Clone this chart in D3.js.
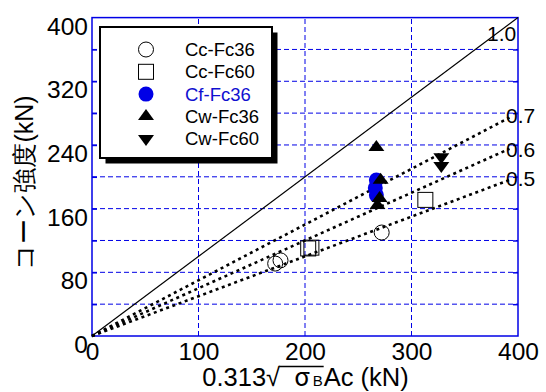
<!DOCTYPE html>
<html><head><meta charset="utf-8">
<script src="https://cdn.jsdelivr.net/npm/d3@7"></script>
<style>body{margin:0;background:#fff}svg{display:block}text{font-family:"Liberation Sans",Arial,sans-serif}</style>
</head><body>
<script>
// ---- data ----
const xTicks = [0, 100, 200, 300, 400];
const yTicks = [0, 80, 160, 240, 320, 400];
const yMinor = [40, 80, 120, 160, 200, 240, 280, 320, 360];
const xGrid = [100, 200, 300];
const ratioLines = [1.0, 0.7, 0.6, 0.5];
const ratioLabels = ["1.0", "0.7", "0.6", "0.5"];
const seriesNames = ["Cc-Fc36", "Cc-Fc60", "Cf-Fc36", "Cw-Fc36", "Cw-Fc60"];
const ccFc36X = [172, 177, 272];
const ccFc36Y = [91, 95, 130];
const ccFc60X = [203, 206, 313];
const ccFc60Y = [110, 111, 171];
const cfFc36X = [267, 266, 267];
const cfFc36Y = [196, 186, 177];
const cwFc36X = [267, 271, 270, 268];
const cwFc36Y = [237, 196, 173, 164];
const cwFc60X = [328, 328];
const cwFc60Y = [225, 214];

const W = 546, H = 392;
const L = 92, R = 518, T = 17.6, B = 336;
const blue = "#0000e6";
const svg = d3.select("body").append("svg").attr("width", W).attr("height", H);
const x = d3.scaleLinear().domain([0, 400]).range([L, R]);
const y = d3.scaleLinear().domain([0, 400]).range([B, T]);

// grid
svg.append("g").selectAll("line").data(yMinor).join("line")
  .attr("x1", L).attr("x2", R).attr("y1", d => y(d)).attr("y2", d => y(d))
  .attr("stroke", blue).attr("stroke-width", 1).attr("stroke-dasharray", "5,3");
svg.append("g").selectAll("line").data(xGrid).join("line")
  .attr("y1", B).attr("y2", T).attr("x1", d => x(d)).attr("x2", d => x(d))
  .attr("stroke", blue).attr("stroke-width", 1).attr("stroke-dasharray", "5,3");

// inward ticks (left & right)
const tickAxL = svg.append("g").attr("transform", `translate(${L},0)`)
  .call(d3.axisLeft(y).tickValues(yMinor).tickSize(-5).tickFormat(""));
tickAxL.select(".domain").remove();
tickAxL.selectAll("line").attr("stroke", blue).attr("stroke-width", 1.5);
const tickAxR = svg.append("g").attr("transform", `translate(${R},0)`)
  .call(d3.axisRight(y).tickValues(yMinor).tickSize(-5).tickFormat(""));
tickAxR.select(".domain").remove();
tickAxR.selectAll("line").attr("stroke", blue).attr("stroke-width", 1.5);

// border
svg.append("rect").attr("x", L).attr("y", T).attr("width", R - L).attr("height", B - T)
  .attr("fill", "none").attr("stroke", blue).attr("stroke-width", 1.5);

// tick labels
const yAx = svg.append("g").attr("transform", `translate(${L - 4},0)`)
  .call(d3.axisLeft(y).tickValues(yTicks).tickSize(0).tickPadding(0).tickFormat(d3.format("d")));
yAx.select(".domain").remove();
yAx.selectAll("text").attr("font-size", 24.5).attr("fill", "#000").attr("dy", "0.68em")
  .attr("font-family", "Liberation Sans, Arial, sans-serif");
const xAx = svg.append("g").attr("transform", `translate(0,${B})`)
  .call(d3.axisBottom(x).tickValues(xTicks).tickSize(0).tickPadding(0).tickFormat(d3.format("d")));
xAx.select(".domain").remove();
xAx.selectAll("text").attr("font-size", 24.5).attr("fill", "#000").attr("dy", "0.98em")
  .attr("font-family", "Liberation Sans, Arial, sans-serif");

// ratio lines
ratioLines.forEach((k, i) => {
  const xe = k === 1 ? 400 : 392;
  svg.append("line").attr("x1", x(0)).attr("y1", y(0)).attr("x2", x(xe)).attr("y2", y(xe * k))
    .attr("stroke", "#000")
    .attr("stroke-width", k === 1 ? 1.2 : 2.6)
    .attr("stroke-dasharray", k === 1 ? null : "3,3.6");
});
const lblPos = [[487, 41], [506, 123], [506, 157], [506, 186]];
ratioLabels.forEach((t, i) => {
  svg.append("text").attr("x", lblPos[i][0]).attr("y", lblPos[i][1]).attr("font-size", 21)
    .text(t);
});

// markers
function triPath(up) {
  const w = 8, h = 11;
  return up ? `M${-w},${h / 3}L${w},${h / 3}L0,${-2 * h / 3}Z` : `M${-w},${-h / 3}L${w},${-h / 3}L0,${2 * h / 3}Z`;
}
function drawMarker(g, type, cx, cy) {
  if (type === 0) g.append("circle").attr("cx", cx).attr("cy", cy).attr("r", 7.5).attr("fill", "none").attr("stroke", "#000").attr("stroke-width", 1);
  if (type === 1) g.append("rect").attr("x", cx - 7.5).attr("y", cy - 7.5).attr("width", 15).attr("height", 15).attr("fill", "none").attr("stroke", "#000").attr("stroke-width", 1);
  if (type === 2) g.append("circle").attr("cx", cx).attr("cy", cy).attr("r", 7.5).attr("fill", blue).attr("stroke", "none");
  if (type === 3) g.append("path").attr("d", triPath(true)).attr("transform", `translate(${cx},${cy})`).attr("fill", "#000");
  if (type === 4) g.append("path").attr("d", triPath(false)).attr("transform", `translate(${cx},${cy})`).attr("fill", "#000");
}
const seriesX = [ccFc36X, ccFc60X, cfFc36X, cwFc36X, cwFc60X];
const seriesY = [ccFc36Y, ccFc60Y, cfFc36Y, cwFc36Y, cwFc60Y];
const gm = svg.append("g");
seriesX.forEach((xs, s) => xs.forEach((v, i) => drawMarker(gm, s, x(v), y(seriesY[s][i]))));

// legend
const lg = svg.append("g");
lg.append("rect").attr("x", 105.5).attr("y", 32.5).attr("width", 172).attr("height", 131).attr("fill", "#000");
lg.append("rect").attr("x", 100).attr("y", 27).attr("width", 172).attr("height", 131).attr("fill", "#fff").attr("stroke", "#000").attr("stroke-width", 2);
seriesNames.forEach((n, i) => {
  const cy = 49.5 + i * 22.3;
  drawMarker(lg, i, 146, cy);
  lg.append("text").attr("x", 185).attr("y", cy + 6.5).attr("font-size", 18.5)
    .attr("fill", i === 2 ? "#1010d0" : "#000").text(n);
});

// y title
svg.append("text").attr("transform", "translate(33,182.5) rotate(-90)").attr("text-anchor", "middle")
  .attr("font-size", 25).attr("font-family", "Liberation Sans, 'Noto Sans CJK JP', sans-serif")
  .text("コーン強度(kN)");

// x title
const xt = svg.append("text").attr("x", 305.5).attr("y", 386).attr("text-anchor", "middle").attr("font-size", 25.5);
xt.append("tspan").text("0.313√");
xt.append("tspan").attr("dx", 14).attr("font-family", "'Noto Sans CJK JP', sans-serif").text("σ");
xt.append("tspan").attr("dx", 3).attr("font-size", 15).text("B");
xt.append("tspan").attr("dx", 1).text("Ac (kN)");
const node = xt.node();
const full = node.textContent;
const iS = full.indexOf("√"), iB = full.indexOf("B");
const x1 = node.getEndPositionOfChar(iS).x - 1, x2 = node.getEndPositionOfChar(iB).x + 1;
svg.append("line").attr("x1", x1).attr("x2", x2).attr("y1", 366.5).attr("y2", 366.5).attr("stroke", "#000").attr("stroke-width", 1.5);
</script>
</body></html>
